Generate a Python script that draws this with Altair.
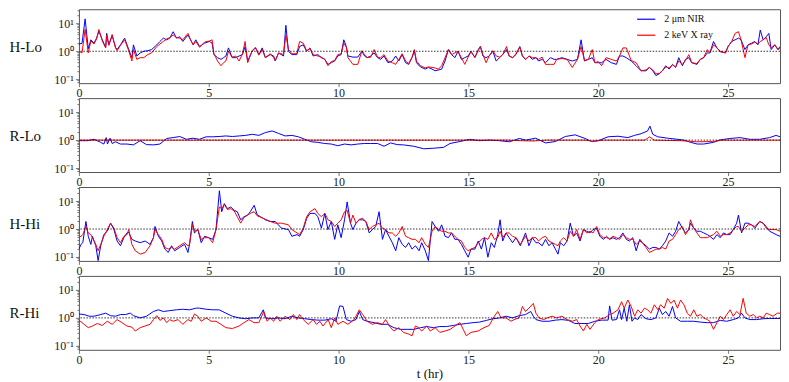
import altair as alt
import numpy as np
import pandas as pd

# ---------------- data (values stored as log10 of the plotted ratio) ----------------
HLO_T = [0.0,0.12,0.24,0.36,0.46,0.58,0.68,0.77,0.9,1.03,
1.07,1.15,1.28,1.41,1.47,1.6,1.76,1.92,2.04,2.1,
2.23,2.36,2.5,2.65,2.8,3.0,3.12,3.25,3.38,3.5,
3.63,3.76,3.88,4.0,4.2,4.3,4.4,4.5,4.65,4.84,
5.03,5.13,5.2,5.34,5.47,5.57,5.66,5.76,5.9,6.04,
6.17,6.3,6.4,6.5,6.67,6.8,6.93,7.06,7.18,7.37,
7.5,7.56,7.69,7.88,7.97,8.07,8.2,8.39,8.5,8.64,
8.77,8.9,9.02,9.2,9.34,9.47,9.59,9.72,9.85,9.97,
10.1,10.2,10.3,10.36,10.55,10.74,10.9,11.0,11.1,11.24,
11.37,11.5,11.62,11.75,11.9,12.07,12.2,12.32,12.45,12.58,
12.7,12.83,12.92,13.0,13.15,13.34,13.46,13.6,13.72,13.85,
13.97,14.1,14.23,14.35,14.48,14.6,14.73,14.86,14.99,15.1,
15.25,15.38,15.46,15.56,15.68,15.8,15.94,16.07,16.2,16.32,
16.47,16.57,16.7,16.83,16.98,17.08,17.2,17.34,17.46,17.6,
17.7,17.84,17.97,18.16,18.3,18.4,18.6,18.8,19.0,19.2,
19.34,19.47,19.62,19.77,19.87,20.0,20.13,20.3,20.5,20.7,
20.82,20.95,21.08,21.27,21.46,21.65,21.84,21.97,22.1,22.22,
22.35,22.47,22.6,22.73,22.86,22.98,23.1,23.24,23.36,23.49,
23.6,23.8,23.93,24.06,24.2,24.3,24.44,24.57,24.7,24.9,
25.0,25.14,25.27,25.4,25.5,25.65,25.77,25.9,26.03,26.15,
26.24,26.35,26.47,26.57,26.66,26.8,26.92,27.0]
HLO_NIR = [0.26,0.28,1.16,0.09,0.41,0.29,0.47,0.72,0.41,0.14,
0.64,0.23,0.56,0.14,0.06,0.23,0.47,0.06,-0.23,0.23,
-0.17,-0.06,0.0,0.02,0.06,0.23,0.35,0.47,0.41,0.47,
0.70,0.47,0.52,0.35,0.58,0.41,0.23,0.41,0.17,0.29,
0.35,0.29,-0.12,-0.23,-0.29,-0.23,-0.17,0.12,-0.23,-0.23,
-0.17,-0.12,0.17,-0.35,0.0,0.12,-0.12,0.12,-0.23,-0.12,
-0.17,-0.35,-0.06,-0.17,0.93,0.0,-0.12,-0.12,0.17,0.23,
0.0,0.12,-0.17,-0.12,-0.23,-0.29,-0.47,-0.41,-0.35,-0.17,
-0.12,0.41,0.17,-0.17,-0.21,-0.21,0.0,-0.17,-0.23,-0.17,
-0.06,-0.23,-0.29,-0.17,-0.41,-0.35,-0.17,-0.35,-0.12,-0.41,
-0.47,-0.23,0.02,-0.41,-0.56,-0.64,-0.58,-0.64,-0.70,-0.67,
-0.64,-0.35,0.06,-0.12,-0.23,0.0,-0.29,-0.23,-0.17,0.0,
-0.23,0.06,0.17,-0.17,-0.23,-0.17,0.0,-0.35,-0.23,-0.12,
0.06,-0.17,-0.23,-0.12,0.17,-0.17,-0.29,-0.17,-0.29,-0.23,
-0.35,-0.29,-0.41,-0.23,-0.29,-0.29,-0.23,-0.29,-0.35,-0.29,
0.41,-0.35,-0.29,-0.23,-0.41,-0.41,-0.41,-0.29,-0.41,-0.47,
-0.17,-0.17,-0.23,-0.35,-0.52,-0.70,-0.70,-0.58,-0.70,-0.87,
-0.81,-0.70,-0.52,-0.64,-0.47,-0.58,-0.23,-0.52,-0.29,-0.23,
-0.41,-0.47,-0.29,-0.23,-0.06,-0.06,0.35,0.12,0.0,-0.06,
0.17,0.35,0.41,0.47,0.41,0.06,0.23,0.29,0.35,0.23,
0.76,0.41,0.52,0.64,0.06,0.23,0.06,0.17]
HLO_XRAY = [0.0,-0.06,0.79,-0.06,0.37,0.26,0.44,0.78,0.37,0.12,
0.58,0.21,0.60,0.12,0.02,0.21,0.41,0.02,-0.35,0.06,
-0.29,-0.23,-0.23,-0.12,-0.06,0.17,0.26,0.35,0.44,0.49,
0.58,0.49,0.47,0.41,0.64,0.41,0.23,0.35,0.14,0.33,
0.37,0.41,-0.09,-0.35,-0.52,-0.41,-0.35,0.0,-0.21,-0.17,
-0.35,-0.09,0.35,-0.41,0.02,0.14,-0.14,0.06,-0.23,-0.09,
-0.23,-0.33,-0.06,-0.12,0.58,0.06,-0.09,-0.09,0.35,0.29,
0.02,0.09,-0.12,-0.17,-0.21,-0.29,-0.52,-0.37,-0.33,-0.12,
-0.09,0.29,0.14,-0.23,-0.47,-0.47,0.02,-0.12,-0.23,-0.21,
0.06,-0.21,-0.23,-0.12,-0.35,-0.41,-0.47,-0.29,-0.09,-0.35,
-0.44,-0.21,0.06,-0.35,-0.52,-0.60,-0.56,-0.58,-0.60,-0.64,
-0.52,-0.23,0.06,-0.12,-0.06,0.0,-0.23,-0.47,-0.21,-0.02,
-0.21,0.02,0.17,-0.12,-0.41,-0.17,0.02,-0.17,-0.21,-0.12,
0.17,-0.17,-0.23,-0.09,0.14,-0.17,-0.29,-0.17,-0.23,-0.23,
-0.29,-0.21,-0.47,-0.47,-0.47,-0.29,-0.26,-0.29,-0.58,-0.29,
0.17,-0.33,-0.29,0.06,-0.41,-0.37,-0.52,-0.23,-0.29,-0.35,
-0.17,0.12,0.12,-0.33,-0.41,-0.70,-0.67,-0.58,-0.67,-0.81,
-0.79,-0.70,-0.56,-0.60,-0.49,-0.56,-0.35,-0.47,-0.33,-0.12,
-0.41,-0.44,-0.29,-0.23,0.06,-0.06,0.23,0.12,-0.02,-0.06,
0.17,0.35,0.64,0.70,0.41,-0.23,0.23,0.26,0.33,0.26,
0.35,0.41,0.49,0.23,0.12,0.23,0.06,0.12]

RLO_NIR_T = [0,0.33,0.58,0.84,0.96,1.05,1.1,1.2,1.28,1.41,
1.6,1.85,2.1,2.36,2.6,2.87,3.12,3.38,3.63,3.88,
4.14,4.39,4.64,4.9,5.15,5.4,5.66,5.91,6.17,6.42,
6.68,6.93,7.18,7.44,7.69,7.94,8.2,8.45,8.7,8.96,
9.2,9.47,9.72,9.97,10.23,10.48,10.74,10.99,11.24,11.5,
11.75,12.0,12.26,12.5,12.9,13.28,13.66,14.04,14.29,14.67,
15.05,15.43,15.81,16.2,16.58,16.96,17.21,17.59,17.97,18.35,
18.73,19.11,19.49,19.75,20.0,20.38,20.76,21.14,21.4,21.65,
21.9,21.99,22.1,22.29,22.67,23.05,23.3,23.56,23.81,24.06,
24.44,24.7,25.08,25.46,25.84,26.22,26.6,26.85,27.0]
RLO_NIR = [-0.02,-0.02,0.03,-0.08,-0.14,0.09,-0.14,0.07,-0.12,-0.06,
-0.14,-0.14,-0.17,-0.02,-0.16,-0.17,-0.14,0.06,0.09,0.13,
0.03,0.07,0.03,0.12,0.12,0.13,0.15,0.13,0.15,0.17,
0.21,0.17,0.27,0.33,0.24,0.15,0.17,0.12,0.03,-0.06,
-0.08,-0.12,-0.14,-0.20,-0.14,-0.17,-0.14,-0.12,-0.12,-0.12,
-0.22,-0.10,-0.16,-0.17,-0.22,-0.31,-0.29,-0.26,-0.12,-0.05,
0.03,-0.02,0.0,-0.02,-0.06,0.06,0.0,0.07,-0.10,-0.05,
0.13,0.19,0.06,-0.05,-0.02,0.12,0.14,0.09,0.17,0.23,
0.33,0.50,0.21,0.12,0.07,0.03,0.0,-0.08,-0.14,-0.14,
-0.08,0.01,0.06,0.09,0.03,0.03,0.09,0.17,0.12]
RLO_XRAY_T = [0,16.5,17.0,17.5,18.0,19.5,19.8,20.2,21.8,21.98,22.15,23.2,23.8,24.4,24.8,27.0]
RLO_XRAY = [0,0,-0.02,-0.03,0,0,-0.04,0,0,0.12,0,-0.02,-0.06,-0.05,0,0]

HHI_T = [0.0,0.08,0.15,0.27,0.36,0.46,0.52,0.65,0.74,0.84,
0.96,1.09,1.22,1.35,1.47,1.6,1.73,1.85,1.92,2.04,
2.17,2.36,2.55,2.74,2.87,2.93,3.06,3.19,3.31,3.44,
3.57,3.69,3.88,4.07,4.2,4.26,4.37,4.45,4.58,4.71,
4.84,5.0,5.15,5.28,5.41,5.5,5.6,5.72,5.85,5.98,
6.1,6.23,6.36,6.5,6.6,6.75,6.87,7.0,7.18,7.37,
7.56,7.8,8.07,8.2,8.4,8.5,8.64,8.77,8.9,9.09,
9.2,9.34,9.47,9.59,9.72,9.85,9.97,10.1,10.23,10.33,
10.46,10.55,10.67,10.8,10.93,11.05,11.18,11.3,11.43,11.56,
11.69,11.81,11.94,12.07,12.2,12.32,12.45,12.58,12.7,12.83,
12.96,13.1,13.2,13.34,13.46,13.6,13.72,13.85,13.97,14.1,
14.23,14.35,14.48,14.6,14.73,14.86,14.99,15.1,15.25,15.38,
15.5,15.62,15.75,15.88,16.0,16.13,16.22,16.32,16.45,16.57,
16.7,16.83,17.0,17.2,17.33,17.46,17.6,17.7,17.84,17.97,
18.1,18.22,18.35,18.45,18.54,18.67,18.8,18.92,19.05,19.17,
19.3,19.43,19.56,19.68,19.8,19.94,20.06,20.2,20.32,20.44,
20.57,20.7,20.82,20.95,21.08,21.2,21.33,21.46,21.6,21.7,
21.84,21.97,22.1,22.22,22.35,22.47,22.6,22.73,22.86,22.98,
23.1,23.24,23.36,23.49,23.55,23.68,23.8,23.93,24.06,24.2,
24.3,24.44,24.57,24.7,24.82,24.95,25.08,25.2,25.33,25.4,
25.52,25.65,25.77,25.9,26.03,26.22,26.35,26.47,26.6,26.73,
26.85,27.0]
HHI_NIR = [-0.72,-0.55,-0.49,0.27,-0.26,-0.55,-0.26,-0.60,-1.13,-0.60,
-0.20,-0.08,0.21,-0.02,-0.43,-0.60,-0.31,-0.14,-0.12,-0.37,
-0.43,-0.49,-0.43,-0.55,-0.31,0.09,-0.26,-0.43,-0.72,-0.84,
-0.60,-0.78,-0.66,-0.55,-0.84,-0.55,0.27,-0.14,-0.02,-0.49,
-0.26,-0.31,-0.37,-0.02,1.37,0.62,0.91,0.73,0.79,0.67,
0.62,0.33,0.44,0.50,0.62,0.85,0.50,0.44,0.33,0.27,
0.27,0.03,-0.02,-0.26,-0.20,-0.26,-0.02,0.38,0.56,0.56,
0.44,0.03,0.56,-0.02,0.27,-0.37,0.15,-0.31,0.33,0.97,
0.21,-0.02,0.21,0.33,0.33,0.27,-0.14,-0.02,0.09,0.62,
-0.37,-0.02,-0.26,-0.49,-0.78,-0.31,-0.55,-0.66,-0.49,-0.72,
-0.60,-0.78,-0.49,-0.78,-1.13,0.27,0.09,-0.08,0.15,-0.26,
-0.31,-0.14,-0.37,-0.37,-0.55,-0.78,-1.01,-0.72,-0.72,-0.43,
-0.72,-0.31,-1.01,-0.49,-0.66,-0.20,0.33,-0.43,-0.14,-0.31,
-0.49,-0.31,-0.60,-0.14,-0.60,-0.31,-0.49,-0.49,-0.60,-0.37,
-0.60,-0.49,-0.72,-0.90,-0.49,-0.60,-0.43,0.21,-0.26,-0.14,
-0.43,-0.02,-0.08,-0.14,-0.02,0.03,-0.26,-0.37,-0.26,-0.37,
-0.31,-0.37,-0.31,-0.14,-0.37,-0.43,-0.31,-0.78,-0.37,-0.49,
-0.60,-0.72,-0.66,-0.66,-0.72,-0.60,-0.43,-0.14,-0.26,-0.08,
0.27,0.03,-0.14,-0.02,0.21,0.03,-0.08,-0.08,-0.14,-0.20,
-0.26,-0.37,-0.20,-0.31,-0.14,-0.20,-0.20,-0.02,0.21,0.50,
-0.14,0.21,0.21,0.15,0.03,0.27,0.21,0.09,-0.08,-0.14,
-0.20,-0.26]
HHI_XRAY = [-0.31,-0.26,-0.20,0.09,-0.14,-0.20,-0.31,-0.55,-0.78,-0.55,
-0.26,-0.02,0.21,0.03,-0.31,-0.49,-0.26,-0.20,-0.02,-0.55,
-0.78,-0.90,-0.84,-0.60,-0.31,-0.02,-0.20,-0.37,-0.66,-0.72,
-0.66,-0.72,-0.60,-0.49,-0.60,-0.55,0.15,-0.08,-0.02,-0.37,
-0.31,-0.31,-0.49,-0.02,0.79,0.73,0.88,0.70,0.73,0.65,
0.44,0.21,0.42,0.50,0.56,0.62,0.47,0.42,0.35,0.27,
0.21,0.21,0.15,-0.02,-0.14,-0.20,0.03,0.44,0.62,0.73,
0.56,0.44,0.56,0.33,0.27,0.09,0.21,0.33,0.62,0.67,
0.21,0.50,0.21,0.35,0.38,0.27,-0.02,0.09,0.15,0.21,
0.03,-0.02,-0.14,-0.14,-0.26,-0.14,0.09,-0.26,-0.31,-0.37,
-0.37,-0.49,-0.31,-0.55,-0.66,-0.08,0.09,-0.02,-0.08,-0.08,
-0.14,-0.14,-0.26,-0.37,-0.43,-0.66,-0.78,-0.72,-0.66,-0.49,
-0.37,-0.31,-0.37,-0.14,-0.37,-0.31,-0.08,-0.31,-0.14,-0.14,
-0.26,-0.31,-0.55,-0.26,-0.43,-0.31,-0.31,-0.43,-0.31,-0.26,
-0.43,-0.49,-0.55,-0.60,-0.43,-0.31,-0.43,-0.08,-0.26,-0.02,
-0.37,-0.02,-0.14,-0.08,-0.14,0.09,-0.20,-0.31,-0.31,-0.35,
-0.26,-0.31,-0.37,-0.20,-0.31,-0.37,-0.37,-0.55,-0.43,-0.49,
-0.66,-0.84,-0.78,-0.72,-0.72,-0.66,-0.72,-0.43,-0.37,-0.20,
-0.02,0.09,-0.20,-0.02,0.33,0.03,-0.14,-0.31,-0.31,-0.31,
-0.26,-0.20,-0.08,-0.26,-0.20,-0.20,-0.14,-0.02,0.09,0.09,
-0.08,0.03,0.15,0.15,0.09,0.27,0.21,0.03,-0.02,-0.02,
-0.02,-0.08]

RHI_NIR_T = [0,0.2,0.4,0.58,0.84,1.03,1.22,1.41,1.6,1.79,
1.98,2.1,2.36,2.6,2.87,3.06,3.25,3.5,3.76,4.0,
4.26,4.52,4.64,4.9,5.15,5.4,5.66,5.91,6.17,6.42,
6.67,6.93,7.1,7.18,7.44,7.69,7.94,8.2,8.45,8.7,
8.96,9.2,9.47,9.72,9.9,10.04,10.17,10.3,10.48,10.67,
10.8,10.93,11.1,11.37,11.62,11.88,12.13,12.39,12.64,12.9,
13.15,13.4,13.65,13.9,14.16,14.42,14.67,14.92,15.18,15.43,
15.69,15.94,16.2,16.45,16.7,16.95,17.2,17.4,17.5,17.6,
17.84,18.1,18.35,18.6,18.86,19.1,19.37,19.62,19.87,20.13,
20.38,20.44,20.53,20.7,20.82,20.9,21.0,21.1,21.2,21.3,
21.4,21.52,21.65,21.84,22.03,22.22,22.35,22.47,22.6,22.73,
22.86,22.98,23.17,23.43,23.68,23.93,24.2,24.44,24.7,24.95,
25.2,25.4,25.52,25.65,25.84,26.1,26.35,26.6,26.85,27.0]
RHI_NIR = [0.14,0.12,0.06,0.06,0.12,0.17,0.08,0.06,0.12,0.12,
0.17,0.08,0.0,0.06,0.23,0.29,0.23,0.26,0.29,0.31,
0.29,0.35,0.35,0.31,0.29,0.29,0.17,0.06,0.0,-0.03,
0.0,0.0,0.29,0.0,-0.03,0.0,-0.03,0.06,0.0,-0.03,
-0.06,-0.08,-0.08,-0.03,-0.12,0.43,0.41,-0.06,-0.12,-0.06,
0.23,-0.06,-0.12,-0.17,-0.23,-0.23,-0.35,-0.41,-0.41,-0.41,
-0.35,-0.31,-0.35,-0.31,-0.31,-0.27,-0.23,-0.20,-0.17,-0.15,
-0.09,-0.03,0.0,0.06,0.0,0.08,0.12,0.23,0.06,-0.06,
-0.12,-0.12,-0.08,-0.06,-0.09,-0.20,-0.20,-0.20,-0.12,-0.08,
-0.08,0.43,-0.08,-0.06,0.29,-0.06,0.35,-0.12,0.47,-0.12,
0.0,-0.06,0.12,-0.03,-0.06,0.0,0.35,0.12,0.23,0.06,
0.41,0.0,-0.12,-0.12,-0.12,-0.15,-0.17,-0.17,-0.09,-0.12,
-0.06,0.0,0.17,0.0,-0.06,-0.06,-0.03,-0.02,-0.02,-0.02]
RHI_XRAY_T = [0,0.2,0.36,0.52,0.71,0.9,1.09,1.28,1.47,1.66,
1.85,2.04,2.17,2.36,2.55,2.74,2.87,3.0,3.12,3.25,
3.38,3.5,3.63,3.82,4.0,4.2,4.33,4.45,4.58,4.71,
4.9,5.09,5.28,5.47,5.66,5.91,6.17,6.36,6.55,6.74,
6.93,7.12,7.25,7.37,7.5,7.62,7.75,7.94,8.13,8.26,
8.39,8.5,8.64,8.83,9.02,9.15,9.28,9.4,9.6,9.72,
9.85,9.97,10.17,10.36,10.6,10.8,10.93,11.1,11.3,11.5,
11.69,11.81,12.0,12.13,12.32,12.5,12.7,12.83,12.96,13.08,
13.2,13.4,13.53,13.72,13.9,14.1,14.3,14.48,14.67,14.8,
14.92,15.1,15.37,15.6,15.8,16.0,16.13,16.26,16.45,16.64,
16.76,16.95,17.08,17.2,17.33,17.5,17.6,17.72,17.9,18.03,
18.22,18.4,18.6,18.8,19.0,19.17,19.3,19.43,19.56,19.68,
19.87,20.0,20.25,20.44,20.57,20.76,20.9,21.0,21.14,21.27,
21.4,21.52,21.65,21.78,21.9,22.03,22.16,22.3,22.4,22.54,
22.67,22.8,22.92,23.05,23.17,23.3,23.43,23.55,23.68,23.8,
23.93,24.06,24.2,24.3,24.44,24.57,24.7,24.82,24.95,25.08,
25.2,25.33,25.46,25.58,25.7,25.84,25.97,26.1,26.22,26.35,
26.47,26.6,26.73,26.9,27.0]
RHI_XRAY = [-0.08,-0.23,-0.35,-0.29,-0.20,-0.27,-0.12,-0.23,-0.06,-0.17,
-0.29,-0.33,-0.47,-0.35,-0.29,-0.23,-0.06,0.08,-0.09,0.0,
-0.17,-0.06,-0.12,-0.06,-0.23,-0.06,-0.12,0.14,0.06,-0.12,
0.0,-0.12,-0.12,-0.23,-0.35,-0.38,-0.29,-0.17,-0.06,-0.17,
-0.17,0.23,-0.12,0.0,-0.12,0.06,-0.12,0.06,-0.06,0.12,
-0.06,0.12,-0.06,-0.23,-0.06,-0.23,-0.12,-0.29,-0.06,-0.35,
0.0,-0.23,-0.12,-0.23,-0.06,0.29,0.12,-0.12,-0.23,-0.17,
-0.23,-0.06,-0.35,-0.47,-0.35,-0.52,-0.58,-0.64,-0.29,-0.35,
-0.47,-0.29,-0.47,-0.35,-0.52,-0.47,-0.41,-0.29,-0.17,-0.41,
-0.64,-0.52,-0.47,-0.35,-0.27,0.06,0.23,0.0,0.0,-0.12,
-0.06,0.0,0.41,0.23,0.35,0.52,0.17,0.0,-0.06,0.0,
0.06,0.0,0.06,-0.06,-0.12,-0.06,-0.29,-0.47,-0.23,-0.41,
-0.17,-0.06,0.0,0.12,0.17,0.29,0.58,0.35,0.64,0.41,
0.06,0.29,0.17,0.35,0.29,0.17,0.47,0.29,0.47,0.35,
0.70,0.52,0.64,0.35,0.64,0.47,0.17,0.06,0.29,0.06,
0.12,0.0,-0.06,-0.12,-0.41,-0.17,0.06,-0.06,0.12,0.29,
0.06,0.23,0.12,0.70,0.17,0.06,0.12,0.0,0.06,0.0,
0.17,0.12,0.06,0.17,0.17]

PANELS = ["H-Lo", "R-Lo", "H-Hi", "R-Hi"]
NIR = "2 μm NIR"
XRAY = "2 keV X ray"
SERIES = [NIR, XRAY]
COLORS = ["#0000ff", "#ff0000"]
X_TICKS = [0, 5, 10, 15, 20, 25]
Y_TICKS = [0.08, 0.09, 0.1, 0.2, 0.3, 0.4, 0.5, 0.6, 0.7, 0.8, 0.9,
           1, 2, 3, 4, 5, 6, 7, 8, 9, 10, 20, 30]

SOURCES = {
    "H-Lo": [(HLO_T, HLO_NIR, NIR), (HLO_T, HLO_XRAY, XRAY)],
    "R-Lo": [(RLO_NIR_T, RLO_NIR, NIR), (RLO_XRAY_T, RLO_XRAY, XRAY)],
    "H-Hi": [(HHI_T, HHI_NIR, NIR), (HHI_T, HHI_XRAY, XRAY)],
    "R-Hi": [(RHI_NIR_T, RHI_NIR, NIR), (RHI_XRAY_T, RHI_XRAY, XRAY)],
}

FONT = "Liberation Serif"
W, H = 702, 74
LEFT = 70


def panel_df(name):
    parts = []
    for t, e, s in SOURCES[name]:
        parts.append(pd.DataFrame({"t": t, "v": 10.0 ** np.asarray(e, dtype=float), "series": s}))
    return pd.concat(parts, ignore_index=True)


label_expr = ("datum.value == 10 ? '10¹' : datum.value == 1 ? '10⁰' : "
              "datum.value == 0.1 ? '10⁻¹' : ''")
major_test = "datum.value == 10 || datum.value == 1 || datum.value == 0.1"


def make_panel(i, name):
    last = i == len(PANELS) - 1
    x = alt.X("t:Q",
              scale=alt.Scale(domain=[0, 27], nice=False, zero=False),
              axis=alt.Axis(values=X_TICKS, title="t (hr)" if last else None,
                            labelFlush=False, tickSize=3.5, labelPadding=1,
                            titleFont=FONT, titleFontSize=13, titleFontWeight="normal",
                            titlePadding=2, titleColor="#111"))
    y = alt.Y("v:Q",
              scale=alt.Scale(type="log", domain=[0.072, 32], nice=False),
              axis=alt.Axis(values=Y_TICKS, labelExpr=label_expr, labelOverlap=False,
                            labelFontSize={"condition": {"test": major_test, "value": 12}, "value": 0},
                            tickSize={"condition": {"test": major_test, "value": 3.5}, "value": 2},
                            labelPadding=2, title=name, titleAngle=0, titleAlign="left",
                            titleBaseline="middle", titleX=-LEFT, titleY=H / 2,
                            titleFont=FONT, titleFontSize=15, titleFontWeight="normal",
                            titleColor="#111"))
    if i == 0:
        legend = alt.Legend(orient="none", legendX=558, legendY=0, title=None,
                            symbolType="stroke", symbolSize=330, symbolStrokeWidth=1.2,
                            labelFont=FONT, labelFontSize=10, labelColor="#111",
                            labelOffset=8, rowPadding=1, padding=0)
    else:
        legend = None
    color = alt.Color("series:N", scale=alt.Scale(domain=SERIES, range=COLORS), legend=legend)
    lines = alt.Chart(panel_df(name)).mark_line(strokeWidth=1, clip=True).encode(
        x=x, y=y, color=color, order=alt.Order("t:Q"))
    rule = alt.Chart(pd.DataFrame({"v": [1.0]})).mark_rule(
        color="black", strokeWidth=0.8, strokeDash=[1.5, 1.5]).encode(y="v:Q")
    return alt.layer(lines, rule).properties(width=W, height=H)


panels = [make_panel(i, n) for i, n in enumerate(PANELS)]
chart = alt.vconcat(*panels, spacing=15, bounds="flush").resolve_legend(
    color="independent"
).properties(padding=0).configure_view(
    stroke="#555", strokeWidth=1
).configure_axis(
    domain=False, tickColor="#555", tickWidth=0.8, grid=False,
    labelFont=FONT, labelFontSize=12, labelColor="#222"
)

chart.save("out.html", embed_options={"renderer": "svg", "actions": False})
